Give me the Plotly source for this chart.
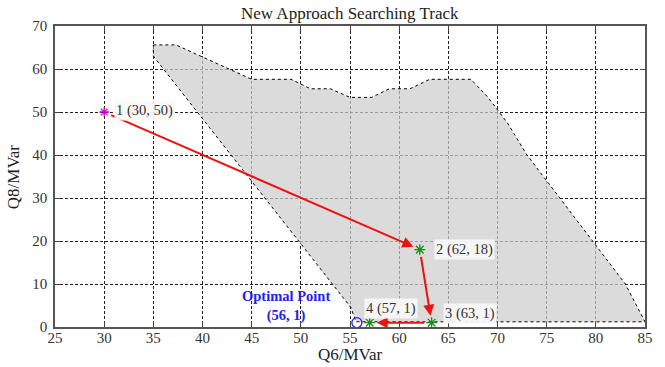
import plotly.graph_objects as go

# Feasible region boundary (Q6, Q8)
region_q6 = [35, 37.3, 45, 49, 51, 53, 55, 57.2, 59, 61.1, 63.1, 67.3, 69, 71, 73, 83, 85, 55.6, 55.1, 35, 35]
region_q8 = [65.6, 65.6, 57.6, 57.6, 55.4, 55.4, 53.4, 53.4, 55.4, 55.4, 57.6, 57.6, 53.5, 47.5, 40, 10, 1.2, 1.2, 4.5, 63, 65.6]

# Search track points
track_q6 = [30, 62.1, 63.3, 57]
track_q8 = [50, 18, 1, 1]
track_labels = ["1 (30, 50)", "2 (62, 18)", "3 (63, 1)", "4 (57, 1)"]

# Optimal point
opt_q6 = [55.7]
opt_q8 = [1]
opt_label = "Optimal Point<br>(56, 1)"

x_ticks = [25, 30, 35, 40, 45, 50, 55, 60, 65, 70, 75, 80, 85]
y_ticks = [0, 10, 20, 30, 40, 50, 60, 70]

SERIF = "Liberation Serif, Times New Roman, serif"

fig = go.Figure()

fig.add_trace(go.Scatter(
    x=region_q6, y=region_q8, mode="lines", fill="toself",
    fillcolor="rgba(205,205,205,0.72)",
    line=dict(color="black", width=1, dash="dot"),
    hoverinfo="skip", showlegend=False,
))

fig.add_trace(go.Scatter(
    x=track_q6[:1], y=track_q8[:1], mode="markers",
    marker=dict(symbol="asterisk-open", size=8, color="#cc00cc", line=dict(width=1.3, color="#cc00cc")),
    showlegend=False,
))
fig.add_trace(go.Scatter(
    x=track_q6[1:], y=track_q8[1:], mode="markers",
    marker=dict(symbol="asterisk-open", size=9, color="#1a8a1a", line=dict(width=1.3, color="#1a8a1a")),
    showlegend=False,
))
fig.add_trace(go.Scatter(
    x=opt_q6, y=opt_q8, mode="markers",
    marker=dict(symbol="circle-open", size=10, color="#2222ee", line=dict(width=1.3, color="#2222ee")),
    showlegend=False,
))

annotations = []
# arrows between consecutive track points
for i in range(len(track_q6) - 1):
    annotations.append(dict(
        x=track_q6[i + 1], y=track_q8[i + 1], ax=track_q6[i], ay=track_q8[i],
        xref="x", yref="y", axref="x", ayref="y",
        showarrow=True, arrowhead=2, arrowsize=1.1, arrowwidth=2, arrowcolor="#ee1111",
        standoff=7, startstandoff=6, text="",
    ))

# point labels
label_anchor = [("left", "middle"), ("left", "middle"), ("left", "middle"), ("left", "bottom")]
label_shift = [(10, 2), (14, 0), (11, 9), (-6, 4)]
for i in range(len(track_q6)):
    annotations.append(dict(
        x=track_q6[i], y=track_q8[i], xref="x", yref="y",
        text=track_labels[i], showarrow=False,
        xanchor=label_anchor[i][0], yanchor=label_anchor[i][1],
        xshift=label_shift[i][0], yshift=label_shift[i][1],
        font=dict(family=SERIF, size=14.5, color="#333333"),
        bgcolor="rgba(248,248,248,0.92)", borderpad=1,
    ))

annotations.append(dict(
    x=opt_q6[0], y=opt_q8[0], xref="x", yref="y",
    text="<b>" + opt_label + "</b>", showarrow=False,
    xanchor="center", yanchor="bottom", xshift=-71, yshift=-3,
    font=dict(family=SERIF, size=14.5, color="#2222ee"),
))

# axis titles
annotations.append(dict(
    x=0.5, y=-0.092, xref="paper", yref="paper", text="Q6/MVar", showarrow=False,
    xanchor="center", yanchor="middle", font=dict(family=SERIF, size=17, color="#222"),
))
annotations.append(dict(
    x=-0.07, y=0.5, xref="paper", yref="paper", text="Q8/MVar", showarrow=False,
    xanchor="center", yanchor="middle", textangle=-90, font=dict(family=SERIF, size=17, color="#222"),
))

fig.update_layout(
    width=665, height=367,
    margin=dict(l=55, r=20, t=26, b=40, autoexpand=False),
    paper_bgcolor="white", plot_bgcolor="white",
    title=dict(text="New Approach Searching Track", x=0.526, xanchor="center", y=0.965, yanchor="middle",
               font=dict(family=SERIF, size=17, color="#222222")),
    font=dict(family=SERIF, size=15, color="#333333"),
    annotations=annotations,
    xaxis=dict(
        range=[25, 85], tickvals=x_ticks, ticks="inside", ticklen=5, tickcolor="#444",
        showline=True, linecolor="#555", linewidth=1.5, mirror="ticks",
        showgrid=True, gridcolor="#222222", griddash="3px,2px", gridwidth=1,
        zeroline=False, tickfont=dict(family=SERIF, size=15, color="#333"), automargin=False,
        ticklabelstandoff=-4,
    ),
    yaxis=dict(
        range=[0, 70], tickvals=y_ticks, ticks="inside", ticklen=5, tickcolor="#444",
        showline=True, linecolor="#555", linewidth=1.5, mirror="ticks",
        showgrid=True, gridcolor="#222222", griddash="3px,2px", gridwidth=1,
        zeroline=False, tickfont=dict(family=SERIF, size=15, color="#333"), automargin=False,
        ticklabelstandoff=3,
    ),
)

fig.write_html("out.html")
